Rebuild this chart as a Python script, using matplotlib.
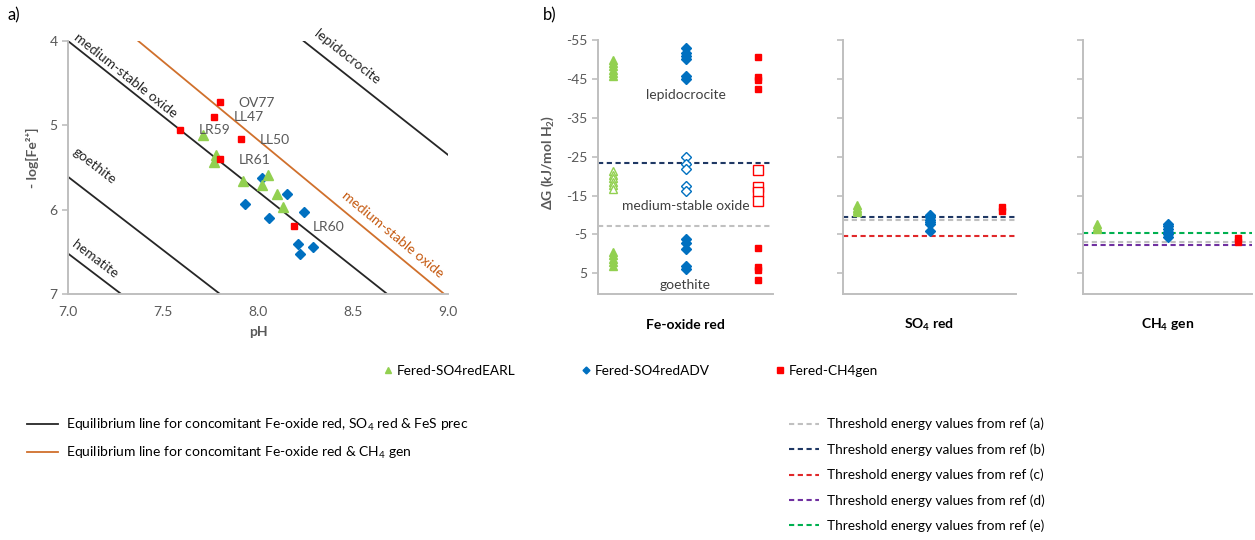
import numpy as np
import matplotlib
matplotlib.use('Agg')
import matplotlib.pyplot as plt
from matplotlib.lines import Line2D

# ---- panel a: -log[Fe2+] vs pH ----
earl_ph = [7.71, 7.78, 7.77, 7.92, 8.05, 8.02, 8.10, 8.13]
earl_fe = [5.12, 5.35, 5.43, 5.66, 5.59, 5.71, 5.82, 5.97]
adv_ph = [8.02, 8.15, 7.93, 8.24, 8.06, 8.21, 8.29, 8.22]
adv_fe = [5.62, 5.82, 5.93, 6.03, 6.10, 6.41, 6.44, 6.53]
ch4_ph = [7.80, 7.77, 7.59, 7.91, 7.80, 8.19]
ch4_fe = [4.72, 4.90, 5.05, 5.16, 5.40, 6.19]
site_names = ['OV77', 'LL47', 'LR59', 'LL50', 'LR61', 'LR60']
site_ph = [7.895, 7.87, 7.69, 8.01, 7.90, 8.29]
site_fe = [4.73, 4.90, 5.06, 5.17, 5.41, 6.20]

# equilibrium lines (pH start, -log start, pH end, -log end)
eq_names = ['hematite', 'goethite', 'medium-stable oxide', 'lepidocrocite']
eq_lines = [(7.0, 6.52, 7.28, 7.0), (7.0, 5.61, 7.80, 7.0),
            (7.0, 4.0, 8.68, 7.0), (8.24, 4.0, 9.0, 5.35)]
eq_label_pos = [(7.14, 6.59), (7.14, 5.48), (7.30, 4.41), (8.47, 4.19)]
ch4_line = (7.37, 4.0, 8.98, 7.0)
ch4_label_pos = (8.71, 6.30)

# ---- panel b: dG values (kJ/mol H2) ----
fe_earl_lepi = [-49.8, -49.0, -48.2, -47.4, -46.6, -45.8]
fe_adv_lepi = [-53.0, -51.7, -50.9, -50.2, -45.8, -45.0]
fe_ch4_lepi = [-50.6, -45.4, -44.6, -42.4]
fe_earl_mso = [-21.2, -20.3, -19.4, -18.5, -17.6, -16.7]
fe_adv_mso = [-24.9, -23.2, -21.8, -17.4, -16.1]
fe_ch4_mso = [-21.7, -17.1, -15.8, -13.5]
fe_earl_goe = [-0.6, 0.3, 1.2, 2.1, 3.0]
fe_adv_goe = [-3.9, -2.7, -1.3, 3.1, 4.0]
fe_ch4_goe = [-1.4, 3.3, 4.2, 6.7]

so4_earl = [-12.5, -11.8, -11.2, -10.7]
so4_adv = [-10.0, -9.4, -8.8, -8.2, -7.6, -6.0]
so4_ch4 = [-12.0, -11.0]

ch4g_earl = [-7.8, -7.0, -6.3]
ch4g_adv = [-7.8, -7.1, -6.4, -5.7, -5.0, -4.3]
ch4g_ch4 = [-4.0, -3.0]

ref_names = ['a', 'b', 'c', 'd', 'e']
ref_colors = ['#c0c0c0', '#1f3864', '#e0282a', '#7030a0', '#00b050']
fe_thresh = {'a': -7.2, 'b': -23.4}
so4_thresh = {'a': -8.8, 'b': -9.5, 'c': -4.6}
ch4_thresh = {'a': -3.0, 'd': -2.4, 'e': -5.4}

GREEN = '#92d050'
BLUE = '#0070c0'
RED = '#ff0000'
ORANGE = '#d0702c'
GREY = '#595959'
SPINE = '#bfbfbf'

plt.rcParams['font.family'] = ['Lato', 'DejaVu Sans']
plt.rcParams['mathtext.default'] = 'regular'
plt.rcParams['axes.unicode_minus'] = False

W, H = 1255, 540
fig = plt.figure(figsize=(W / 100, H / 100), dpi=100)


def px_axes(l, t, r, b):
    return fig.add_axes([l / W, 1 - b / H, (r - l) / W, (b - t) / H])


def style(ax):
    for s in ['top', 'right']:
        ax.spines[s].set_visible(False)
    for s in ['left', 'bottom']:
        ax.spines[s].set_color(SPINE)
        ax.spines[s].set_linewidth(1.4)
    ax.tick_params(colors=SPINE, labelcolor=GREY, labelsize=10, length=4, width=1.2)


# ---------------- panel a ----------------
ax = px_axes(68, 41, 448, 294)
style(ax)
ax.set_xlim(7, 9)
ax.set_ylim(7, 4)
ax.set_xticks([7.0, 7.5, 8.0, 8.5, 9.0])
ax.set_xticklabels(['%.1f' % v for v in [7.0, 7.5, 8.0, 8.5, 9.0]])
ax.set_yticks([4, 5, 6, 7])
ax.tick_params(axis='x', length=0, pad=9)


def screen_angle(x0, y0, x1, y1):
    p = ax.transData.transform([(x0, y0), (x1, y1)])
    return np.degrees(np.arctan2(p[1, 1] - p[0, 1], p[1, 0] - p[0, 0]))


for (x0, y0, x1, y1), name, (lx, ly) in zip(eq_lines, eq_names, eq_label_pos):
    ax.plot([x0, x1], [y0, y1], color='#262626', lw=1.3, zorder=2)
    ax.text(lx, ly, name, rotation=screen_angle(x0, y0, x1, y1), rotation_mode='anchor',
            ha='center', va='center', fontsize=10, color='#262626', clip_on=False)
x0, y0, x1, y1 = ch4_line
ax.plot([x0, x1], [y0, y1], color=ORANGE, lw=1.3, zorder=2)
ax.text(ch4_label_pos[0], ch4_label_pos[1], 'medium-stable oxide',
        rotation=screen_angle(x0, y0, x1, y1), rotation_mode='anchor',
        ha='center', va='center', fontsize=10, color='#c55a11')

ax.plot(adv_ph, adv_fe, 'D', color=BLUE, ms=5, ls='none', zorder=3)
ax.plot(earl_ph, earl_fe, '^', color=GREEN, ms=7, ls='none', zorder=3)
ax.plot(ch4_ph, ch4_fe, 's', color=RED, ms=5, ls='none', zorder=4)
for n, x, y in zip(site_names, site_ph, site_fe):
    ax.text(x, y, n, color=GREY, fontsize=10, ha='left', va='center', zorder=5)

fig.text(32 / W, 1 - 158 / H, '- log[Fe²⁺]', rotation=90, ha='center', va='center',
         color=GREY, fontsize=10, fontweight='bold')
fig.text(258 / W, 1 - 332 / H, 'pH', ha='center', va='center', color=GREY,
         fontsize=10, fontweight='bold')
fig.text(14 / W, 1 - 15 / H, 'a)', ha='center', va='center', fontsize=12)
fig.text(550 / W, 1 - 15 / H, 'b)', ha='center', va='center', fontsize=12)

# ---------------- panel b ----------------
panels = [
    ((598, 40, 773, 294), 'Fe-oxide red',
     [(fe_earl_lepi + fe_earl_goe, fe_earl_mso), (fe_adv_lepi + fe_adv_goe, fe_adv_mso),
      (fe_ch4_lepi + fe_ch4_goe, fe_ch4_mso)], fe_thresh),
    ((843, 40, 1016, 294), 'SO$_4$ red',
     [(so4_earl, []), (so4_adv, []), (so4_ch4, [])], so4_thresh),
    ((1083, 40, 1252, 294), 'CH$_4$ gen',
     [(ch4g_earl, []), (ch4g_adv, []), (ch4g_ch4, [])], ch4_thresh),
]
markers = [('^', GREEN, 6), ('D', BLUE, 5), ('s', RED, 5)]
open_sizes = [6, 5.5, 7.5]

dash = (2.5, 1.7)
for i, (box, title, groups, thresh) in enumerate(panels):
    bx = px_axes(*box)
    style(bx)
    bx.set_xlim(0.8, 3.2)
    bx.set_ylim(10.3, -55)
    bx.set_yticks([-55, -45, -35, -25, -15, -5, 5])
    bx.set_xticks([])
    if i > 0:
        bx.set_yticklabels([])
    for key in ['a', 'e', 'd', 'c', 'b']:
        if key in thresh:
            bx.axhline(thresh[key], color=ref_colors[ref_names.index(key)], lw=1.5,
                       dashes=dash, zorder=2)
    for k, ((filled, hollow), (m, c, ms)) in enumerate(zip(groups, markers)):
        xs = np.full(len(filled), k + 1)
        bx.plot(xs, filled, m, color=c, ms=ms, ls='none', zorder=3)
        if hollow:
            bx.plot(np.full(len(hollow), k + 1), hollow, m, mfc='white', mec=c,
                    mew=1.0, ms=open_sizes[k], ls='none', zorder=3)
    bx.text(0.5, -0.122, title, transform=bx.transAxes, ha='center', va='center',
            fontsize=10, fontweight='bold')
    if i == 0:
        bx.text(2, -40.9, 'lepidocrocite', ha='center', va='center', fontsize=10,
                color='#404040', zorder=5)
        bx.text(2, -12.3, 'medium-stable oxide', ha='center', va='center', fontsize=10,
                color='#404040', zorder=5)
        bx.text(2, 8.0, 'goethite', ha='center', va='center', fontsize=10,
                color='#404040', zorder=5)

fig.text(548 / W, 1 - 162 / H, '$\\Delta$G (kJ/mol H$_2$)', rotation=90, ha='center',
         va='center', color=GREY, fontsize=10, fontweight='bold')

# ---------------- legends ----------------
h1 = [Line2D([], [], marker='^', color=GREEN, ls='none', ms=4.5),
      Line2D([], [], marker='D', color=BLUE, ls='none', ms=3.5),
      Line2D([], [], marker='s', color=RED, ls='none', ms=4.5)]
fig.legend(h1, ['Fered-SO4redEARL', 'Fered-SO4redADV', 'Fered-CH4gen'],
           loc='center left', bbox_to_anchor=(385 / W, 1 - 371 / H), ncol=3,
           frameon=False, fontsize=9.8, columnspacing=4.9, handlelength=0.5,
           handletextpad=0.4, borderpad=0, borderaxespad=0)

h2 = [Line2D([], [], color='#262626', lw=1.3), Line2D([], [], color=ORANGE, lw=1.3)]
fig.legend(h2, ['Equilibrium line for concomitant Fe-oxide red, SO$_4$ red & FeS prec',
                'Equilibrium line for concomitant Fe-oxide red & CH$_4$ gen'],
           loc='center left', bbox_to_anchor=(27 / W, 1 - 439 / H), frameon=False,
           fontsize=10, handlelength=2.2, handletextpad=0.6, labelspacing=0.85,
           borderpad=0, borderaxespad=0)

h3 = [Line2D([], [], color=c, lw=1.5, dashes=dash) for c in ref_colors]
fig.legend(h3, ['Threshold energy values from ref (%s)' % n for n in ref_names],
           loc='center left', bbox_to_anchor=(789 / W, 1 - 475 / H), frameon=False,
           fontsize=9.8, handlelength=2.2, handletextpad=0.6, labelspacing=0.95,
           borderpad=0, borderaxespad=0)

fig.savefig('out.png', dpi=100)
